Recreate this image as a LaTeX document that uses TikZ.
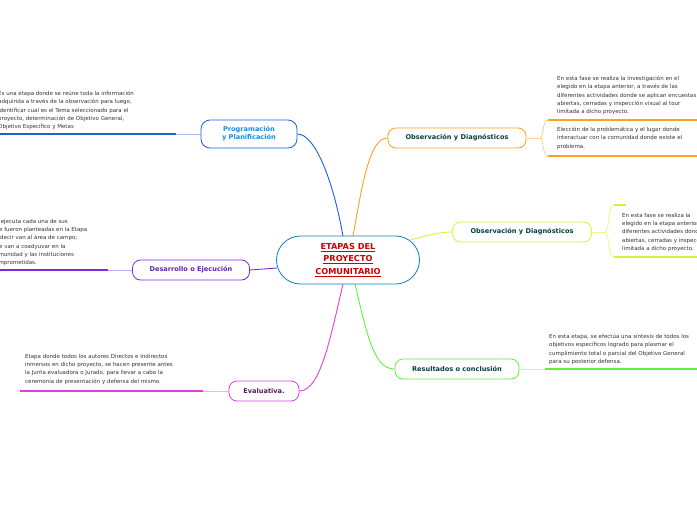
\documentclass[tikz,border=0pt]{standalone}
\usepackage{fontspec}
\setmainfont{DejaVu Sans}
\begin{document}
\begin{tikzpicture}[x=1pt,y=-1pt,
  box/.style={draw, line width=0.8pt, rounded corners=9pt, fill=white, font=\fontsize{6.6}{8}\selectfont\bfseries, align=center, inner sep=0pt},
  leaf/.style={anchor=north west, align=left, inner sep=0pt, font=\fontsize{5.5}{8.3}\selectfont, text=black!80},
  bthick/.style={line width=1.3pt},
  bthin/.style={line width=0.8pt, opacity=0.4}]
\useasboundingbox (0,0) rectangle (697,520);
\clip (0,0) rectangle (697,520);
\definecolor{colB}{HTML}{1A5FE0}\definecolor{colP}{HTML}{7A2BE0}\definecolor{colM}{HTML}{E040E0}
\definecolor{colO}{HTML}{FFA020}\definecolor{colY}{HTML}{D8F040}\definecolor{colG}{HTML}{60F040}
\coordinate (cTop1) at (343,236);\coordinate (cTop2) at (353,236);\coordinate (cR) at (410,240);
\coordinate (cL) at (277,268);\coordinate (cB1) at (343,284);\coordinate (cB2) at (355,284);
\node[box, draw=colB, text=colB!70!cyan, minimum width=96pt, minimum height=28pt] (prog) at (249,134) {Programación\\y Planificación};
\node[box, draw=colP, text=colP!80!black, minimum width=117pt, minimum height=20pt, rounded corners=8pt] (des) at (191,270) {Desarrollo o Ejecución};
\node[box, draw=colM, text=colM!40!black, minimum width=70pt, minimum height=20pt, rounded corners=8pt] (eva) at (264,391) {Evaluativa.};
\node[box, draw=colO, text=teal!50!black, minimum width=138pt, minimum height=20pt, rounded corners=8pt] (ob1) at (457,138) {Observación y Diagnósticos};
\node[box, draw=colY, text=teal!50!black, minimum width=139pt, minimum height=20pt, rounded corners=8pt] (ob2) at (522,232) {Observación y Diagnósticos};
\node[box, draw=colG, text=teal!50!black, minimum width=124pt, minimum height=20pt, rounded corners=8pt] (res) at (457,369) {Resultados o conclusión};
\draw[colB, line width=0.9pt] (cTop1) .. controls (333,180) and (315,134) .. (prog.east);
\draw[colO, line width=0.9pt] (cTop2) .. controls (363,180) and (370,138) .. (ob1.west);
\draw[colY, line width=0.9pt] (cR) .. controls (425,236) and (440,232) .. (ob2.west);
\draw[colP, line width=0.9pt] (cL) -- (des.east);
\draw[colM, line width=0.9pt] (cB1) .. controls (330,340) and (320,391) .. (eva.east);
\draw[colG, line width=0.9pt] (cB2) .. controls (368,340) and (375,369) .. (res.west);
\node[draw=colB!60!cyan!80!black, line width=0.8pt, minimum width=143pt, minimum height=48pt, fill=white, rounded corners=24pt, text=red!80!black, font=\fontsize{8.2}{12.3}\selectfont\bfseries, align=center, inner sep=0pt] (c) at (348,260) {\underline{ETAPAS DEL}\\\underline{PROYECTO}\\\underline{COMUNITARIO}};
\coordinate (p1) at (0,134);\coordinate (p2) at (176,134);
\draw[colB,bthick] (p1) -- (p2);\draw[colB,bthin] (p2) -- (prog.west);
\node[leaf] (tp) at (-2,91) {Es una etapa  donde se reúne toda la información\\adquirida a través de la observación para luego,\\identificar cual es el Tema seleccionado para el\\proyecto, determinación de Objetivo General,\\Objetivo Específico  y Metas};
\coordinate (d1) at (0,270);\coordinate (d2) at (108,270);
\draw[colP,bthick] (d1) -- (d2);\draw[colP,bthin] (d2) -- (des.west);
\node[leaf] (td) at (-8,219) {Se ejecuta cada una de sus\\que fueron planteadas  en la Etapa\\es decir  van al área de campo;\\que van a coadyuvar en la\\comunidad y las instituciones\\comprometidas.};
\coordinate (e1) at (20,391);\coordinate (e2) at (203,391);
\draw[colM,bthick] (e1) -- (e2);\draw[colM,bthin] (e2) -- (eva.west);
\node[leaf] (te) at (25,354) {Etapa donde todos los autores  Directos e Indirectos\\inmersos en dicho proyecto, se hacen presente antes\\la Junta evaluadora o Jurado, para llevar a cabo la\\ceremonia de presentación y defensa del mismo.};
\coordinate (o0) at (540,138);\coordinate (o1) at (548,120);\coordinate (o2) at (548,156);
\coordinate (o1e) at (697,120);\coordinate (o2e) at (697,156);
\draw[colO!50,line width=0.8pt] (ob1.east) -- (o0);
\draw[colO!50,line width=0.8pt] (o0) .. controls (544,138) and (542,120) .. (o1);
\draw[colO!50,line width=0.8pt] (o0) .. controls (544,138) and (542,156) .. (o2);
\draw[colO,bthick] (o1) -- (o1e);\draw[colO,bthick] (o2) -- (o2e);
\node[leaf] (t1) at (557,76) {En esta fase se realiza la investigación  en el\\elegido en la etapa anterior, a través de las\\diferentes actividades donde se aplican encuestas\\abiertas, cerradas y inspección visual al tour\\limitada a dicho proyecto.};
\node[leaf] (t2) at (557,127) {Elección de la problemática y el lugar donde\\interactuar con la comunidad donde existe el\\problema.};
\coordinate (y0) at (605,232);\coordinate (y1) at (614,205);\coordinate (y2) at (614,257);
\coordinate (y1e) at (626,205);\coordinate (y2e) at (697,257);
\draw[colY!60,line width=0.8pt] (ob2.east) -- (y0);
\draw[colY!60,line width=0.8pt] (y0) .. controls (610,232) and (607,205) .. (y1);
\draw[colY!60,line width=0.8pt] (y0) .. controls (610,232) and (607,257) .. (y2);
\draw[colY,bthick] (y1) -- (y1e);\draw[colY,bthick] (y2) -- (y2e);
\node[leaf] (t3) at (622,213) {En esta fase se realiza la\\elegido en la etapa anterior\\diferentes actividades donde\\abiertas, cerradas y inspección\\limitada a dicho proyecto.};
\coordinate (r1) at (545,369);\coordinate (r2) at (697,369);
\draw[colG,bthin] (res.east) -- (r1);\draw[colG,bthick] (r1) -- (r2);
\node[leaf] (t4) at (549,334) {En esta etapa, se efectúa una síntesis de todos los\\objetivos específicos logrado para plasmar el\\cumplimiento total o parcial del Objetivo General\\para su posterior defensa.};
\end{tikzpicture}
\end{document}
